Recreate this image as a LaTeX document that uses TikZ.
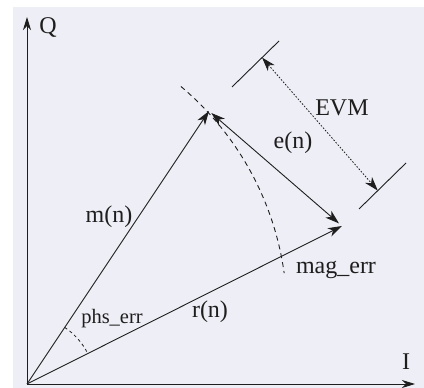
\documentclass[tikz,border=0pt]{standalone}
\usepackage{fontspec}
\setmainfont{Liberation Serif}
\usetikzlibrary{arrows.meta,calc}
\definecolor{bgcol}{RGB}{238,238,246}
\definecolor{ink}{RGB}{30,30,30}
\begin{document}
\begin{tikzpicture}[x=1pt,y=1pt,
  axisline/.style={draw=ink,line width=0.9pt,-{Stealth[length=13pt,width=8pt,inset=4pt]}},
  vecline/.style={draw=ink,line width=0.9pt,-{Stealth[length=14pt,width=9pt,inset=4pt]}},
  dvecline/.style={draw=ink,line width=0.9pt,{Stealth[length=14pt,width=9pt,inset=4pt]}-{Stealth[length=14pt,width=9pt,inset=4pt]}},
  evmline/.style={draw=ink,line width=0.8pt,dash pattern=on 1.6pt off 1.6pt,{Stealth[length=14pt,width=9pt,inset=4pt]}-{Stealth[length=14pt,width=9pt,inset=4pt]}},
  tickline/.style={draw=ink,line width=0.9pt},
  magarc/.style={draw=ink,line width=0.9pt,dash pattern=on 5pt off 4pt},
  phsarc/.style={draw=ink,line width=0.8pt,dash pattern=on 3pt off 3pt},
  lbl/.style={text=ink,font=\fontsize{24}{27}\selectfont,inner sep=0pt},
  slbl/.style={text=ink,font=\fontsize{20.5}{23}\selectfont,inner sep=0pt}]
\fill[white] (0,0) rectangle (424,388);
\fill[bgcol] (13,0) rectangle (424,381);
\useasboundingbox (0,0) rectangle (424,388);
% points
\coordinate (O) at (27,4);
\coordinate (Qt) at (27,371);
\coordinate (It) at (415,4);
\coordinate (M) at (209,277);
\coordinate (R) at (342,162);
\coordinate (C) at (-10,74);
\coordinate (U1) at (232,301);
\coordinate (U2) at (279,347);
\coordinate (L1) at (359,179);
\coordinate (L2) at (406,225);
\coordinate (EA) at ($(U1)!0.64!(U2)$);
\coordinate (EB) at ($(L1)!0.40!(L2)$);
% axes
\draw[axisline] (O) -- (Qt);
\draw[axisline] (O) -- (It);
% vectors
\draw[vecline] (O) -- (M);
\draw[vecline] (O) -- (R);
\draw[dvecline,shorten <=3pt,shorten >=4pt] (M) -- (R);
% arcs
\draw[magarc] ($(C)+(50:297)$) arc[start angle=50,end angle=7.9,radius=297];
\draw[phsarc] ($(O)+(56.3:68)$) arc[start angle=56.3,end angle=26.6,radius=68];
% EVM
\draw[tickline] (U1) -- (U2);
\draw[tickline] (L1) -- (L2);
\draw[evmline] (EA) -- (EB);
% labels
\node[lbl] (q) at (48,360) {Q};
\node[lbl] (i) at (406,26) {I};
\node[lbl] (mn) at (109,171) {m(n)};
\node[lbl] (rn) at (210,76) {r(n)};
\node[lbl] (en) at (293,245) {e(n)};
\node[lbl] (evm) at (342,280) {EVM};
\node[slbl] (phs) at (112,69) {phs\_err};
\node[lbl] (mag) at (336,118) {mag\_err};
\end{tikzpicture}
\end{document}
